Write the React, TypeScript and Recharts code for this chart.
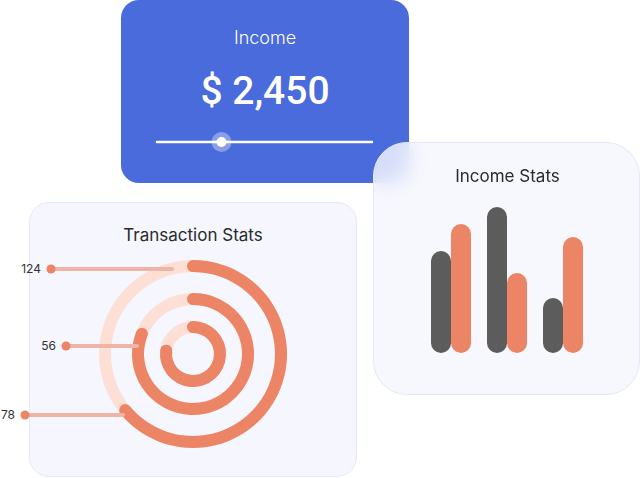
import React from "react";
import { BarChart, Bar, XAxis, YAxis, PieChart, Pie, Cell } from "recharts";

// ---- data ----
const incomeLabel = "Income";
const incomeValue = "$ 2,450";
const sliderPosition = 0.3; // fraction of the slider track

const statCategories = ["A", "B", "C"];
const darkSeries = [102, 146, 55];
const orangeSeries = [129, 80, 116];

const ringPercents = [64, 81, 77]; // outer, middle, inner
const ringLabels = ["124", "56", "78"];

const barData = statCategories.map((c, i) => ({ name: c, dark: darkSeries[i], orange: orangeSeries[i] }));

// ---- styling / layout ----
const BLUE = "#4A6BDB";
const ORANGE = "#EC8466";
const DARK = "#5C5C5C";
const TRACK = "#FDDFD5";
const LEADER = "#EDB5A5";
const CARD_BG = "#F5F6FE";
const TITLE_FONT = "Inter, 'Open Sans', sans-serif";

const ringGeom = [
  { outer: 94, inner: 82 },
  { outer: 61, inner: 49 },
  { outer: 33, inner: 21 },
];
// leader-line annotations (page coordinates)
const leaders = [
  { y: 269, x1: 51, x2: 172 },
  { y: 346, x1: 66, x2: 137 },
  { y: 415, x1: 25, x2: 123 },
];

export default function App() {
  const trackL = 157, trackR = 372;
  const knobX = trackL + (trackR - trackL) * sliderPosition;
  return (
    <div style={{ position: "fixed", left: 0, top: 0, width: 640, height: 478, background: "#fff", overflow: "hidden" }}>
      {/* Income card */}
      <div style={{ position: "absolute", left: 121, top: 0, width: 288, height: 183, background: BLUE, borderRadius: 18 }}>
        <div style={{ position: "absolute", left: 0, width: 288, top: 27, textAlign: "center", color: "#fff", fontFamily: TITLE_FONT, fontWeight: 300, fontSize: 18 }}>{incomeLabel}</div>
        <div style={{ position: "absolute", left: 0, width: 288, top: 68, textAlign: "center", color: "#fff", fontFamily: "Roboto, sans-serif", fontWeight: 500, fontSize: 39 }}>{incomeValue}</div>
      </div>
      <svg style={{ position: "absolute", left: 0, top: 0 }} width={640} height={478}>
        <line x1={trackL} x2={trackR} y1={142} y2={142} stroke="#fff" strokeWidth={2.5} strokeLinecap="round" />
        <circle cx={knobX} cy={142} r={10} fill="rgba(255,255,255,0.35)" />
        <circle cx={knobX} cy={142} r={5} fill="#fff" />
      </svg>

      {/* Transaction stats card */}
      <div style={{ position: "absolute", left: 29, top: 202, width: 326, height: 273, background: CARD_BG, border: "1px solid #E6E9F8", borderRadius: 20 }}>
        <div style={{ position: "absolute", left: 0, width: 326, top: 22, textAlign: "center", color: "#2A2A2A", fontFamily: TITLE_FONT, fontSize: 17 }}>Transaction Stats</div>
        <div style={{ position: "absolute", left: 0, top: 0 }}>
          <PieChart width={326} height={273} margin={{ top: 0, right: 0, bottom: 0, left: 0 }}>
            {ringPercents.map((p, i) => (
              <Pie key={"bg" + i} data={[{ value: 100 }]} dataKey="value" cx={163} cy={151} innerRadius={ringGeom[i].inner} outerRadius={ringGeom[i].outer} startAngle={90} endAngle={-270} stroke="none" isAnimationActive={false}>
                <Cell fill={TRACK} />
              </Pie>
            ))}
            {ringPercents.map((p, i) => {
              const g = ringGeom[i];
              const capDeg = ((g.outer - g.inner) / 2 / ((g.outer + g.inner) / 2)) * (180 / Math.PI);
              return (
                <Pie key={"fg" + i} data={[{ value: p }]} dataKey="value" cx={163} cy={151} innerRadius={g.inner} outerRadius={g.outer} startAngle={90 + capDeg} endAngle={90 - 3.6 * p - capDeg} cornerRadius={6} stroke="none" isAnimationActive={false}>
                  <Cell fill={ORANGE} />
                </Pie>
              );
            })}
          </PieChart>
        </div>
      </div>
      <svg style={{ position: "absolute", left: 0, top: 0 }} width={640} height={478}>
        {leaders.map((l, i) => (
          <g key={i}>
            <line x1={l.x1} x2={l.x2} y1={l.y} y2={l.y} stroke={LEADER} strokeWidth={4} strokeLinecap="round" />
            <circle cx={l.x1} cy={l.y} r={4.5} fill={ORANGE} />
            <text x={l.x1 - 10} y={l.y + 4} textAnchor="end" fontFamily={TITLE_FONT} fontSize={12} fill="#333">{ringLabels[i]}</text>
          </g>
        ))}
      </svg>

      {/* Income stats card */}
      <div style={{ position: "absolute", left: 373, top: 142, width: 265, height: 251, background: "rgba(245,246,254,0.82)", backdropFilter: "blur(10px)", WebkitBackdropFilter: "blur(10px)", border: "1px solid #E3E7FA", borderRadius: 34 }}>
        <div style={{ position: "absolute", left: 0, width: 267, top: 23, textAlign: "center", color: "#2A2A2A", fontFamily: TITLE_FONT, fontSize: 17 }}>Income Stats</div>
        <div style={{ position: "absolute", left: -1, top: -1 }}>
          <BarChart width={267} height={253} data={barData} margin={{ top: 51, right: 49, bottom: 42, left: 50 }} barGap={0} barSize={20} barCategoryGap={8}>
            <XAxis dataKey="name" hide />
            <YAxis hide domain={[0, 160]} />
            <Bar dataKey="dark" fill={DARK} radius={10} isAnimationActive={false} />
            <Bar dataKey="orange" fill={ORANGE} radius={10} isAnimationActive={false} />
          </BarChart>
        </div>
      </div>
    </div>
  );
}
